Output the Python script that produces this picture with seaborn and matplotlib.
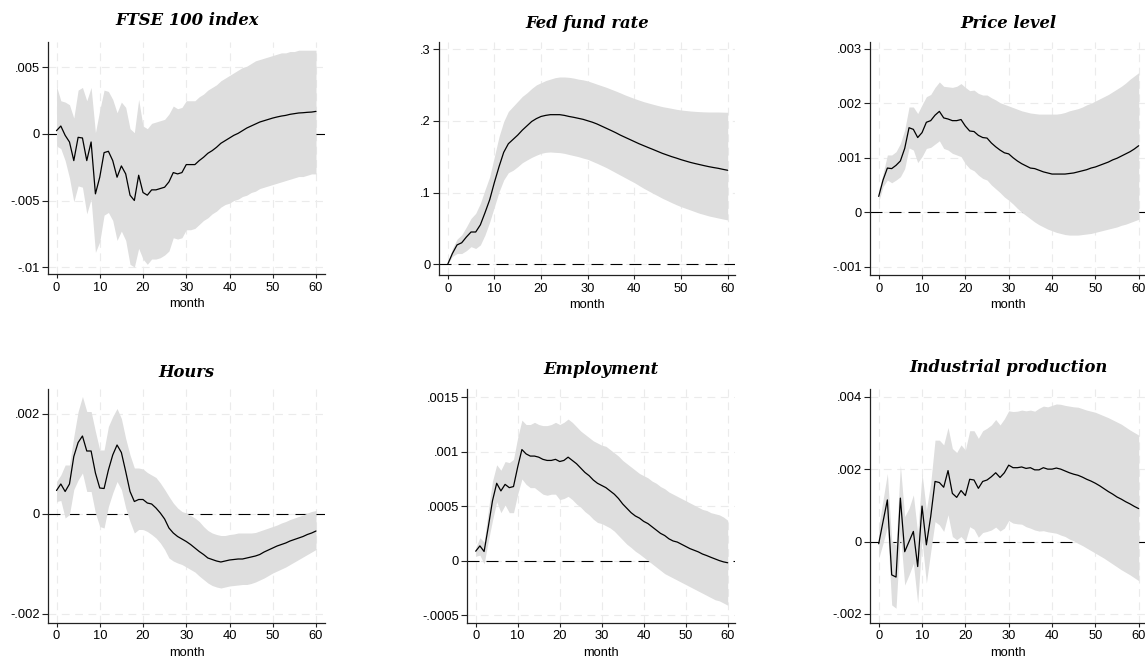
import numpy as np
import matplotlib
matplotlib.use("Agg")
import matplotlib.pyplot as plt
import seaborn as sns

sns.set_theme(style="white")
plt.rcParams["font.family"] = ["Liberation Sans", "DejaVu Sans"]
plt.rcParams["text.color"] = "black"
plt.rcParams["axes.labelcolor"] = "black"

months = np.arange(61)

# ---------------- impulse responses with confidence bands ----------------
ftse_irf = [.00025, .0006, -.0001, -.0006, -.002, -.00025, -.0003, -.002, -.0006, -.0045,
            -.00325, -.0014, -.0013, -.002, -.00325, -.0024, -.003, -.0046, -.005, -.0031,
            -.0044, -.0046, -.0042, -.0042, -.0041, -.004, -.0036, -.0029, -.003, -.0029,
            -.0023, -.0023, -.0023, -.002, -.00175, -.00145, -.00125, -.001, -.0007, -.0005,
            -.0003, -.0001, .00005, .00025, .00045, .0006, .00075, .0009, .001, .0011,
            .0012, .00128, .00135, .0014, .00148, .00153, .00158, .0016, .00163, .00165, .0017]
ftse_upper = [.0036, .0025, .0024, .0022, .0012, .0033, .0035, .0025, .0035, .0001,
              .0018, .0033, .0032, .0026, .0016, .0024, .002, .0004, .0001, .0026,
              .0006, .0004, .0008, .0009, .001, .0011, .0015, .0021, .0019, .002,
              .0025, .0025, .0025, .0028, .003, .0033, .0035, .0037, .004, .0042,
              .0044, .0046, .0048, .005, .0051, .0053, .0055, .0056, .0057, .0058,
              .0059, .006, .0061, .0061, .0062, .0062, .0063, .0063, .0063, .0063, .0063]
ftse_lower = [-.0009, -.0011, -.002, -.0033, -.0051, -.0039, -.004, -.006, -.0049, -.0089,
              -.0081, -.0061, -.0059, -.0065, -.008, -.0073, -.008, -.0098, -.01, -.0086,
              -.0094, -.0098, -.0094, -.0094, -.0093, -.0091, -.0088, -.0078, -.0079, -.0078,
              -.0072, -.0072, -.0071, -.0068, -.0065, -.0063, -.006, -.0058, -.0055, -.0053,
              -.0052, -.005, -.0049, -.0047, -.0046, -.0044, -.0043, -.0041, -.004, -.0039,
              -.0038, -.0037, -.0036, -.0035, -.0034, -.0033, -.0032, -.0032, -.0031, -.003, -.003]

fed_irf = [0, .015, .027, .030, .038, .045, .045, .055, .072, .090,
           .114, .136, .156, .168, .174, .180, .187, .193, .199, .203,
           .206, .2075, .2085, .2085, .2085, .2075, .206, .2048, .2034, .202,
           .200, .198, .1955, .1925, .1895, .1865, .1834, .180, .177, .174,
           .171, .168, .1653, .1626, .160, .1573, .1546, .1523, .150, .148,
           .1458, .1439, .142, .1404, .1389, .1374, .136, .1348, .1337, .1323, .131]
fed_upper = [0, .022, .035, .041, .052, .064, .071, .085, .104, .122,
             .150, .178, .199, .213, .220, .227, .234, .239, .245, .250,
             .253, .256, .258, .260, .261, .261, .2605, .2595, .258, .257,
             .2555, .2533, .251, .2488, .2466, .244, .2415, .2388, .236, .2335,
             .231, .2288, .2266, .2248, .223, .2213, .2197, .2185, .2173, .216,
             .215, .2143, .2136, .2131, .2127, .2124, .2122, .2122, .2122, .212, .2118]
fed_lower = [0, .011, .015, .015, .019, .0246, .022, .027, .041, .059,
             .080, .101, .1175, .1277, .131, .136, .1416, .1454, .149, .152,
             .1546, .156, .1565, .156, .1556, .1546, .153, .1515, .150, .148,
             .1463, .1435, .1407, .1377, .1347, .1312, .1277, .1242, .1207, .1172,
             .1138, .1098, .1059, .1024, .0989, .0955, .092, .089, .0859, .083,
             .0803, .078, .0757, .0733, .071, .0692, .0673, .0659, .0645, .0631, .0618]

price_irf = [.00029, .00059, .00081, .0008, .00086, .00094, .00117, .00155, .00152, .00137,
             .00146, .00165, .00168, .00178, .00185, .00173, .00171, .00168, .00168, .0017,
             .00158, .00149, .00148, .00141, .00137, .00136, .00127, .0012, .00114, .00109,
             .00107, .001, .00094, .00089, .00085, .00081, .0008, .00077, .00074, .00072,
             .0007, .0007, .0007, .0007, .00071, .00072, .00074, .00076, .00078, .00081,
             .00083, .00086, .00089, .00092, .00096, .00099, .00103, .00107, .00111, .00116, .00122]
price_upper = [.00037, .00071, .00105, .00105, .00111, .00126, .00151, .00193, .00193, .00181,
               .00197, .00212, .00216, .00229, .00239, .00231, .0023, .00229, .00231, .00236,
               .00229, .00223, .00224, .00218, .00215, .00215, .0021, .00206, .00201, .00198,
               .00195, .00192, .00189, .00186, .00184, .00182, .00181, .0018, .0018, .0018,
               .0018, .0018, .00181, .00183, .00186, .00188, .0019, .00193, .00197, .002,
               .00204, .00208, .00212, .00216, .00221, .00226, .00231, .00237, .00244, .0025, .00256]
price_lower = [.00019, .00047, .00059, .00054, .00059, .00065, .0008, .00118, .00114, .00091,
               .00102, .00117, .00119, .00125, .00131, .00117, .00114, .00108, .00105, .00102,
               .00089, .0008, .00076, .00068, .00062, .00059, .0005, .00043, .00036, .00028,
               .00022, .00015, .00007, .0, -.00006, -.00012, -.00018, -.00023, -.00027, -.00031,
               -.00034, -.00037, -.00039, -.00041, -.00042, -.00042, -.00042, -.00041, -.0004, -.00039,
               -.00037, -.00035, -.00033, -.00031, -.00029, -.00027, -.00024, -.00022, -.00019, -.00016, -.00013]

hours_irf = [.00047, .0006, .00045, .0006, .00115, .00143, .00156, .00126, .00126, .00082,
             .00052, .00051, .00088, .00118, .00138, .00123, .00085, .00045, .00025, .00029,
             .00029, .00022, .0002, .00012, .00002, -.0001, -.00028, -.00038, -.00045, -.0005,
             -.00055, -.00061, -.00068, -.00075, -.00081, -.00088, -.00091, -.00094, -.00096, -.00094,
             -.00092, -.00091, -.0009, -.0009, -.00088, -.00086, -.00084, -.00081, -.00076, -.00072,
             -.00068, -.00064, -.00061, -.00058, -.00054, -.00051, -.00048, -.00045, -.00041, -.00038, -.00034]
hours_upper = [.00065, .00078, .00098, .00098, .00155, .00205, .00235, .00205, .00205, .00165,
               .00128, .00128, .00175, .00195, .00211, .00191, .00151, .00118, .00092, .00092,
               .0009, .00083, .00078, .00073, .00062, .00049, .00035, .00022, .00012, .00005,
               .00002, -.00003, -.00008, -.00015, -.00025, -.00033, -.00038, -.00041, -.00043, -.00043,
               -.00041, -.0004, -.00038, -.00038, -.00038, -.00038, -.00037, -.00034, -.00031, -.00028,
               -.00025, -.00022, -.00018, -.00015, -.00011, -.00008, -.00005, -.00002, .00002, .00005, .00007]
hours_lower = [.00025, .00027, -.00008, -.00001, .00049, .00068, .00082, .00045, .00045, .00002,
               -.00025, -.00028, .00015, .00042, .00065, .00049, .00012, -.00015, -.00038, -.00031,
               -.00031, -.00035, -.00041, -.00048, -.00058, -.00071, -.00088, -.00094, -.00098, -.00101,
               -.00106, -.00111, -.00116, -.00124, -.00131, -.00138, -.00143, -.00146, -.00148, -.00146,
               -.00144, -.00143, -.00142, -.00141, -.00141, -.00139, -.00136, -.00132, -.00128, -.00123,
               -.00118, -.00114, -.0011, -.00106, -.00101, -.00096, -.00091, -.00086, -.00081, -.00076, -.00071]

empl_irf = [.000086, .000135, .000083, .00031, .00055, .00071, .00064, .0007, .00067, .00068,
            .00086, .00102, .00098, .00096, .00096, .00095, .00093, .00092, .00092, .00093,
            .00091, .00092, .00095, .00092, .00089, .00085, .00081, .00078, .00074, .00071,
            .00069, .00067, .00064, .00061, .00057, .00052, .00048, .00044, .00041, .00039,
            .00036, .00034, .00031, .00028, .00025, .00023, .0002, .00018, .00017, .00015,
            .00013, .00011, .000095, .00008, .00006, .000046, .00003, .000015, 0, -.000012, -.00002]
empl_upper = [.00012, .00021, .00017, .00046, .00073, .00088, .00083, .00091, .0009, .00093,
              .00113, .00129, .00125, .00125, .00127, .00125, .00124, .00124, .00125, .00127,
              .00125, .00127, .0013, .00127, .00123, .00119, .00116, .00113, .0011, .00108,
              .00106, .00105, .00102, .00099, .00096, .00092, .00089, .00086, .00083, .0008,
              .00078, .00076, .00073, .00071, .00068, .00066, .00063, .00061, .00059, .00057,
              .00055, .00053, .00051, .00049, .00047, .00046, .00044, .00043, .00042, .0004, .00037]
empl_lower = [.00004, .00005, -.00003, .00018, .00037, .00054, .00044, .00051, .00044, .00044,
              .00061, .00075, .0007, .00067, .00067, .00064, .00061, .0006, .00061, .00061,
              .00056, .00057, .00059, .00056, .00052, .00049, .00045, .00042, .00038, .00035,
              .00034, .00032, .0003, .00027, .00023, .00019, .00015, .00012, .000086, .00006,
              .00003, 0, -.00003, -.00006, -.00009, -.00012, -.00014, -.00016, -.00018, -.0002,
              -.00022, -.00024, -.00026, -.00028, -.0003, -.00032, -.00034, -.00036, -.00037, -.00039, -.00041]

indpro_irf = [-.00006, .00055, .00115, -.00092, -.00098, .0012, -.00028, 0, .00028, -.00069,
              .00098, -.00009, .00069, .00166, .00163, .0015, .00196, .00133, .00122, .00141,
              .00127, .00172, .0017, .00147, .00166, .0017, .00179, .0019, .00177, .0019,
              .00211, .00204, .00204, .00206, .00202, .00204, .00198, .00198, .00204, .002,
              .002, .00203, .002, .00195, .0019, .00186, .00183, .00178, .00172, .00167,
              .00161, .00154, .00146, .00138, .00131, .00123, .00117, .0011, .00104, .00097, .00091]
indpro_upper = [.00041, .00115, .00188, .00002, -.0001, .00211, .00069, .00092, .00129, .00023,
                .00188, .00087, .00161, .0028, .0028, .00267, .00315, .00257, .00246, .00267,
                .00253, .00306, .00306, .00285, .00306, .00313, .00322, .00337, .00322, .00339,
                .00361, .00359, .0036, .00363, .00361, .00363, .0036, .00368, .00374, .00372,
                .00376, .0038, .00379, .00376, .00374, .00372, .00371, .00367, .00363, .0036,
                .00357, .00352, .00347, .00342, .00336, .0033, .00324, .00316, .00308, .00301, .00294]
indpro_lower = [-.00046, -.00005, .00041, -.00175, -.00184, .00023, -.0012, -.00092, -.0006, -.0017,
                .00005, -.00115, -.00028, .00055, .00046, .00028, .00074, .00014, .00005, .00014,
                0, .00041, .00034, .00012, .00025, .00028, .00032, .0004, .00029, .00037,
                .00058, .00051, .00049, .00048, .00041, .00037, .00032, .00029, .0003, .00027,
                .00025, .00023, .00018, .00014, .00007, .00002, -.00005, -.00011, -.00018, -.00025,
                -.00032, -.00039, -.00046, -.00054, -.00062, -.0007, -.00078, -.00085, -.00092, -.001, -.00108]

titles = ["FTSE 100 index", "Fed fund rate", "Price level",
          "Hours", "Employment", "Industrial production"]
irfs = [ftse_irf, fed_irf, price_irf, hours_irf, empl_irf, indpro_irf]
uppers = [ftse_upper, fed_upper, price_upper, hours_upper, empl_upper, indpro_upper]
lowers = [ftse_lower, fed_lower, price_lower, hours_lower, empl_lower, indpro_lower]

ytick_values = [[-.01, -.005, 0, .005],
                [0, .1, .2, .3],
                [-.001, 0, .001, .002, .003],
                [-.002, 0, .002],
                [-.0005, 0, .0005, .001, .0015],
                [-.002, 0, .002, .004]]
ytick_labels = [["-.01", "-.005", "0", ".005"],
                ["0", ".1", ".2", ".3"],
                ["-.001", "0", ".001", ".002", ".003"],
                ["-.002", "0", ".002"],
                ["-.0005", "0", ".0005", ".001", ".0015"],
                ["-.002", "0", ".002", ".004"]]
xtick_values = [0, 10, 20, 30, 40, 50, 60]

# ---------------- layout (pixels on a 1145 x 661 canvas) ----------------
W, H = 1145, 661
# plot box: left, right, top, bottom
boxes = [(48.3, 325, 42, 274), (439.3, 735, 41.7, 275), (870.3, 1146, 41.7, 275),
         (48.3, 325, 389, 622.7), (467.3, 735, 389.3, 622.7), (870.3, 1146, 389.3, 622.7)]
# pixel columns of month 0 and month 60
xanchors = [(56.5, 316), (447.7, 727.7), (878.7, 1138.7),
            (56.5, 316), (475.7, 727.7), (878.7, 1138.7)]
# pixel rows of the lowest and highest y tick
yanchors = [(267, 67.5), (264.3, 49), (266.7, 48.7),
            (614, 414), (615, 397.3), (614, 396.7)]
# distance from plot top to title baseline, pixels
title_gaps = [17, 13.7, 13.7, 12, 15, 17]

fig = plt.figure(figsize=(W / 100, H / 100), dpi=100)

for i in range(6):
    l, r, t, b = boxes[i]
    ax = fig.add_axes([l / W, 1 - b / H, (r - l) / W, (b - t) / H])

    px0, px60 = xanchors[i]
    sx = (px60 - px0) / 60.0
    ax.set_xlim((l - px0) / sx, (r - px0) / sx)
    yv = ytick_values[i]
    py_lo, py_hi = yanchors[i]
    sy = (py_lo - py_hi) / (yv[-1] - yv[0])
    ax.set_ylim(yv[0] - (b - py_lo) / sy, yv[-1] + (py_hi - t) / sy)

    # light dashed grid
    for xv in xtick_values:
        ax.axvline(xv, color="#ebebeb", lw=0.8, dashes=(7, 5), zorder=0)
    for v in yv:
        ax.axhline(v, color="#ebebeb", lw=0.8, dashes=(7, 5), zorder=0)

    ax.axhline(0, color="black", lw=0.8, dashes=(10.8, 6.3), zorder=1)
    ax.fill_between(months, lowers[i], uppers[i], color="#dedede", lw=0, zorder=2)
    sns.lineplot(x=months, y=irfs[i], ax=ax, color="black", linewidth=0.9, zorder=3)

    ax.set_xticks(xtick_values)
    ax.set_xticklabels([str(v) for v in xtick_values])
    ax.set_yticks(yv)
    ax.set_yticklabels(ytick_labels[i])
    ax.tick_params(axis="both", direction="out", width=0.8, color="#222222",
                   labelsize=9.3, labelcolor="black", bottom=True, left=True)
    ax.tick_params(axis="x", length=3, pad=2.5)
    ax.tick_params(axis="y", length=4, pad=2)
    for side in ["top", "right"]:
        ax.spines[side].set_visible(False)
    for side in ["left", "bottom"]:
        ax.spines[side].set_color("#222222")
        ax.spines[side].set_linewidth(0.9)
    ax.set_xlabel("month", fontsize=9.3, labelpad=3, color="black")
    ax.set_ylabel("")
    ax.set_title(titles[i], fontsize=11.8, fontweight="bold", fontstyle="italic",
                 family="DejaVu Serif", color="black", pad=title_gaps[i] * 0.72)

fig.savefig("out.png", dpi=100)
